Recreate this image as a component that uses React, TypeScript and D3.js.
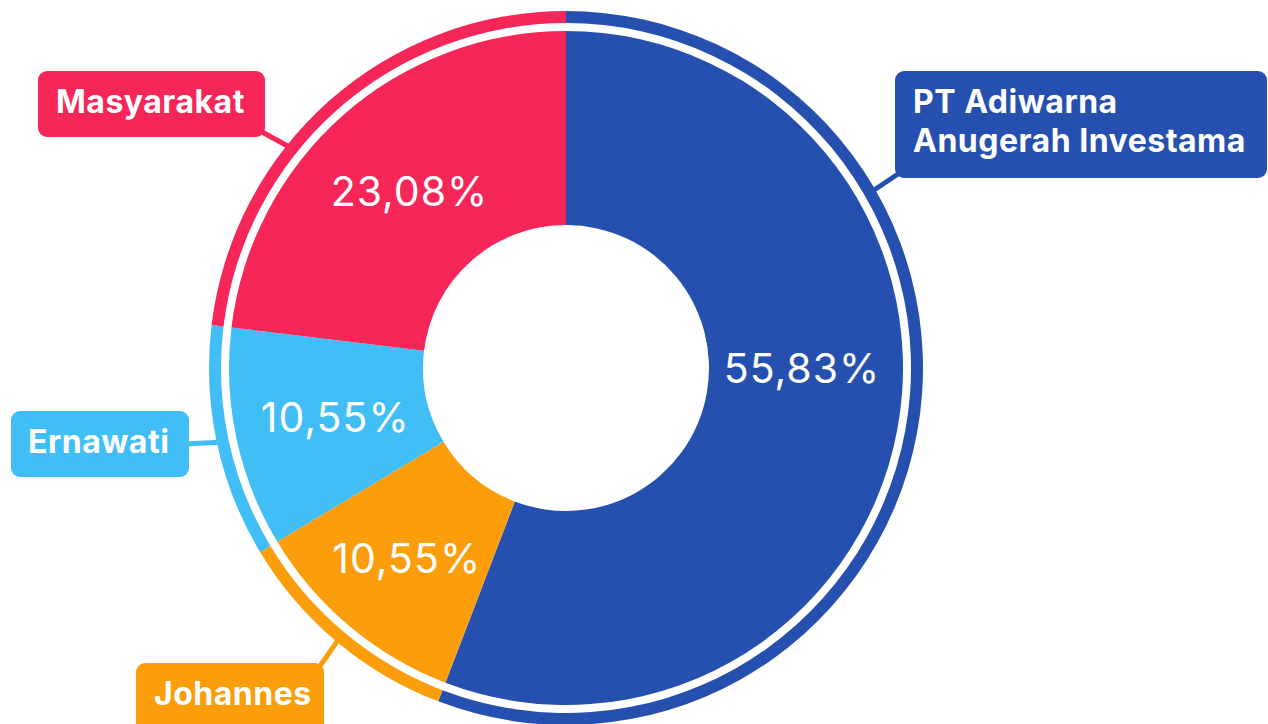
import * as d3 from "d3";

const owners = ["PT Adiwarna Anugerah Investama", "Johannes", "Ernawati", "Masyarakat"];
const nameLines = [["PT Adiwarna", "Anugerah Investama"], ["Johannes"], ["Ernawati"], ["Masyarakat"]];
const shares = [55.83, 10.55, 10.55, 23.08];
const shareLabels = ["55,83%", "10,55%", "10,55%", "23,08%"];
const colors = ["#2650AF", "#FC9E0C", "#41BEF6", "#F72659"];

// layout of the callout boxes (not data)
const callouts = [
  { x: 895, y: 71, w: 372, h: 107, tx: 913, ty: 113, ax: 898, ay: 174, angle: 60 },
  { x: 136, y: 663, w: 188, h: 90, tx: 154, ty: 705, ax: 320, ay: 666, angle: null },
  { x: 11, y: 411, w: 178, h: 66, tx: 28, ty: 453, ax: 186, ay: 444, angle: null },
  { x: 38, y: 71, w: 227, h: 66, tx: 56, ty: 113, ax: 262, ay: 132, angle: 308.6 },
];
const pctAngle = [90, null, null, null];

const W = 1268;
const H = 724;
const cx = 566;
const cy = 368;
const rHole = 143;
const rPie = 337;
const rRingIn = 345;
const rRingOut = 357;

export default function App() {
  const pie = d3.pie<number>().sort(null).value((d) => d);
  const arcs = pie(shares);
  const arcPie = d3.arc<d3.PieArcDatum<number>>().innerRadius(rHole).outerRadius(rPie);
  const arcRing = d3.arc<d3.PieArcDatum<number>>().innerRadius(rRingIn).outerRadius(rRingOut);
  const deg = (a: number) => (a * Math.PI) / 180;
  const polar = (r: number, a: number) => [r * Math.sin(a), -r * Math.cos(a)];

  return (
    <svg
      width={W}
      height={H}
      style={{ position: "absolute", left: 0, top: 0, display: "block" }}
      fontFamily="Inter, 'Noto Sans', sans-serif"
    >
      <g transform={`translate(${cx},${cy})`}>
        {arcs.map((a, i) => {
          const mid = (a.startAngle + a.endAngle) / 2;
          const ang = callouts[i].angle != null ? deg(callouts[i].angle as number) : mid;
          const [px, py] = polar(rRingOut - 2, ang);
          return (
            <line
              key={"l" + i}
              x1={px}
              y1={py}
              x2={callouts[i].ax - cx}
              y2={callouts[i].ay - cy}
              stroke={colors[i]}
              strokeWidth={5}
            />
          );
        })}
        {arcs.map((a, i) => (
          <path key={"r" + i} d={arcRing(a) || ""} fill={colors[i]} />
        ))}
        {arcs.map((a, i) => (
          <path key={"p" + i} d={arcPie(a) || ""} fill={colors[i]} />
        ))}
        {arcs.map((a, i) => {
          const mid = pctAngle[i] != null ? deg(pctAngle[i] as number) : (a.startAngle + a.endAngle) / 2;
          const r = i === 1 ? 248 : 236;
          const [x, y] = polar(r, mid);
          return (
            <text
              key={"t" + i}
              x={x}
              y={y}
              dy="0.36em"
              textAnchor="middle"
              fill="#fff"
              fontSize={41}
              fontWeight={400}
              letterSpacing={1}
            >
              {shareLabels[i]}
            </text>
          );
        })}
      </g>
      {owners.map((o, i) => {
        const c = callouts[i];
        return (
          <g key={o}>
            <rect x={c.x} y={c.y} width={c.w} height={c.h} rx={9} fill={colors[i]} />
            {nameLines[i].map((ln, j) => (
              <text
                key={j}
                x={c.tx}
                y={c.ty + j * 39}
                fill="#fff"
                fontSize={32}
                fontWeight={700}
                letterSpacing={0.5}
              >
                {ln}
              </text>
            ))}
          </g>
        );
      })}
    </svg>
  );
}
